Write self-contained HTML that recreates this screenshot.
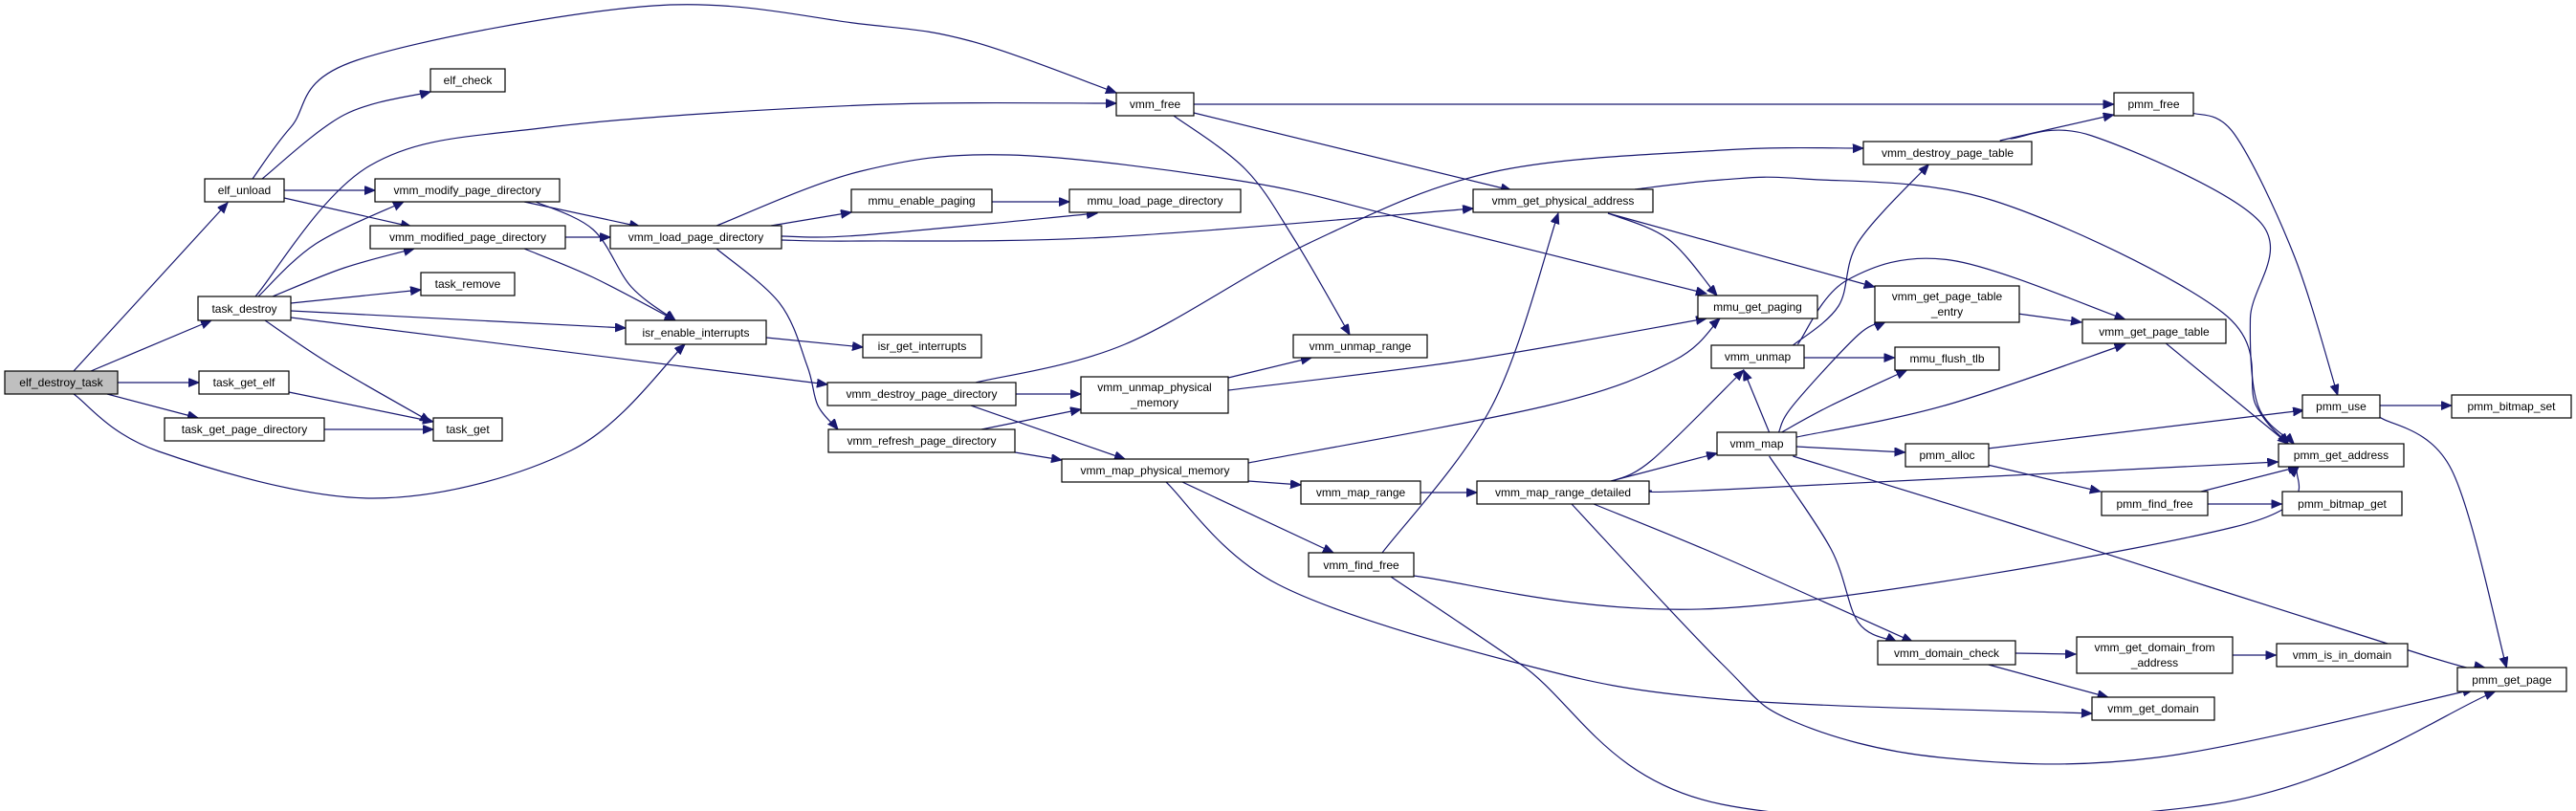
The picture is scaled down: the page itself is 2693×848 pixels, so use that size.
<!DOCTYPE html>
<html><head><meta charset="utf-8"><style>
html,body{margin:0;padding:0;background:#fff;}
svg{display:block;}
text{font-family:"Liberation Sans",Arial,sans-serif;font-size:12px;fill:#000;}
.e{fill:none;stroke:#191970;stroke-width:1.2;marker-end:url(#ah);}
rect{fill:#fff;stroke:#000;stroke-width:1.2;}
</style></head><body>
<svg id="g" width="2693" height="848" viewBox="0 0 2693 848" xmlns="http://www.w3.org/2000/svg">
<defs><marker id="ah" markerUnits="userSpaceOnUse" markerWidth="12" markerHeight="10" refX="11" refY="4.5" orient="auto"><path d="M0,0 L11,4.5 L0,9 z" fill="#191970" stroke="#191970"/></marker></defs>
<g id="edges">
<path class="e" d="M77,388 L238,212"/>
<path class="e" d="M95,388 L221,335"/>
<path class="e" d="M123,400 L208,400"/>
<path class="e" d="M112,412 L207,437"/>
<path class="e" d="M77,412 L166,472 L390,521 L597,471 L716,360"/>
<path class="e" d="M264,187 L304,133 L373,63 L683,6 L900,25 L1015,43 L1167,97"/>
<path class="e" d="M274,187 L360,120 L450,96"/>
<path class="e" d="M297,199 L392,199"/>
<path class="e" d="M297,207 L430,237"/>
<path class="e" d="M267,310 L387,173 L574,133 L900,110 L1167,108"/>
<path class="e" d="M270,310 L330,255 L422,211"/>
<path class="e" d="M285,310 L360,280 L433,260"/>
<path class="e" d="M304,317 L440,303"/>
<path class="e" d="M304,325 L654,343"/>
<path class="e" d="M304,332 L865,402"/>
<path class="e" d="M277,335 L344,380 L450,441"/>
<path class="e" d="M302,410 L453,441"/>
<path class="e" d="M339,449 L453,449"/>
<path class="e" d="M548,211 L669,237"/>
<path class="e" d="M560,211 L620,240 L660,300 L706,335"/>
<path class="e" d="M591,248 L638,248"/>
<path class="e" d="M548,260 L620,290 L706,335"/>
<path class="e" d="M749,236 L900,179 L1055,162 L1302,190 L1474,230 L1784,307"/>
<path class="e" d="M806,236 L890,222"/>
<path class="e" d="M817,247 L900,246 L1147,223"/>
<path class="e" d="M817,251 L900,252 L1158,248 L1540,218"/>
<path class="e" d="M749,260 L815,317 L844,383 L855,424 L876,449"/>
<path class="e" d="M1037,211 L1118,211"/>
<path class="e" d="M801,353 L902,363"/>
<path class="e" d="M1248,109 L2213,109"/>
<path class="e" d="M1248,118 L1580,199"/>
<path class="e" d="M1227,121 L1302,177 L1353,250 L1411,350"/>
<path class="e" d="M1020,400 L1176,360 L1371,253 L1560,180 L1800,157 L1949,155"/>
<path class="e" d="M1062,412 L1130,412"/>
<path class="e" d="M1015,424 L1176,480"/>
<path class="e" d="M1026,449 L1130,428"/>
<path class="e" d="M1061,473 L1110,481"/>
<path class="e" d="M1284,395 L1371,374"/>
<path class="e" d="M1284,408 L1531,377 L1784,333"/>
<path class="e" d="M1305,484 L1618,424 L1750,377 L1798,333"/>
<path class="e" d="M1305,503 L1360,507"/>
<path class="e" d="M1236,504 L1394,578"/>
<path class="e" d="M1219,504 L1336,611 L1589,694 L1800,731 L2190,746"/>
<path class="e" d="M1485,515 L1544,515"/>
<path class="e" d="M1445,578 L1560,424 L1629,223"/>
<path class="e" d="M1477,602 L1800,636 L2340,551 L2408,488"/>
<path class="e" d="M1454,603 L1589,694 L1800,841 L2317,841 L2615,723"/>
<path class="e" d="M1684,503 L1795,474"/>
<path class="e" d="M1686,503 L1727,481 L1823,387"/>
<path class="e" d="M1724,513 L1800,512 L2386,483"/>
<path class="e" d="M1666,527 L1800,582 L2001,671"/>
<path class="e" d="M1643,527 L1800,694 L1875,754 L2030,792 L2259,792 L2592,721"/>
<path class="e" d="M1681,223 L1744,250 L1795,309"/>
<path class="e" d="M1681,223 L1961,300"/>
<path class="e" d="M1709,198 L1800,188 L1886,187 L2087,210 L2328,327 L2363,424 L2397,464"/>
<path class="e" d="M2093,147 L2213,120"/>
<path class="e" d="M2104,145 L2190,142 L2368,233 L2357,333 L2365,424 L2403,464"/>
<path class="e" d="M1875,361 L1923,320 L1944,253 L2018,172"/>
<path class="e" d="M1880,360 L1932,293 L2041,272 L2225,334"/>
<path class="e" d="M1887,374 L1982,374"/>
<path class="e" d="M1850,452 L1823,387"/>
<path class="e" d="M1860,452 L1875,424 L1944,350 L1972,337"/>
<path class="e" d="M1863,452 L1915,424 L1995,387"/>
<path class="e" d="M1879,457 L2035,424 L2225,360"/>
<path class="e" d="M1879,467 L1993,473"/>
<path class="e" d="M1875,477 L2104,547 L2546,687 L2604,698"/>
<path class="e" d="M1850,477 L1915,574 L1944,651 L1984,671"/>
<path class="e" d="M2112,328 L2179,337"/>
<path class="e" d="M2268,359 L2397,464"/>
<path class="e" d="M2296,118 L2340,140 L2403,267 L2449,413"/>
<path class="e" d="M2493,424 L2569,424"/>
<path class="e" d="M2493,436 L2569,491 L2627,698"/>
<path class="e" d="M2080,469 L2413,429"/>
<path class="e" d="M2080,486 L2199,514"/>
<path class="e" d="M2305,514 L2408,488"/>
<path class="e" d="M2310,527 L2390,527"/>
<path class="e" d="M2109,683 L2173,684"/>
<path class="e" d="M2081,695 L2207,729"/>
<path class="e" d="M2336,685 L2384,685"/>
</g>
<g id="nodes">
<rect x="5" y="388" width="118" height="24" style="fill:#bfbfbf"/><text x="64" y="404" text-anchor="middle">elf_destroy_task</text>
<rect x="214" y="187" width="83" height="24"/><text x="255.5" y="203" text-anchor="middle">elf_unload</text>
<rect x="450" y="72" width="78" height="24"/><text x="489" y="88" text-anchor="middle">elf_check</text>
<rect x="392" y="187" width="193" height="24"/><text x="488.5" y="203" text-anchor="middle">vmm_modify_page_directory</text>
<rect x="387" y="236" width="204" height="24"/><text x="489" y="252" text-anchor="middle">vmm_modified_page_directory</text>
<rect x="638" y="236" width="179" height="24"/><text x="727.5" y="252" text-anchor="middle">vmm_load_page_directory</text>
<rect x="440" y="285" width="98" height="24"/><text x="489" y="301" text-anchor="middle">task_remove</text>
<rect x="207" y="310" width="97" height="25"/><text x="255.5" y="327" text-anchor="middle">task_destroy</text>
<rect x="654" y="335" width="147" height="25"/><text x="727.5" y="352" text-anchor="middle">isr_enable_interrupts</text>
<rect x="208" y="388" width="94" height="24"/><text x="255" y="404" text-anchor="middle">task_get_elf</text>
<rect x="172" y="437" width="167" height="24"/><text x="255.5" y="453" text-anchor="middle">task_get_page_directory</text>
<rect x="453" y="437" width="72" height="24"/><text x="489" y="453" text-anchor="middle">task_get</text>
<rect x="1167" y="97" width="81" height="24"/><text x="1207.5" y="113" text-anchor="middle">vmm_free</text>
<rect x="890" y="198" width="147" height="24"/><text x="963.5" y="214" text-anchor="middle">mmu_enable_paging</text>
<rect x="1118" y="198" width="179" height="24"/><text x="1207.5" y="214" text-anchor="middle">mmu_load_page_directory</text>
<rect x="1540" y="198" width="188" height="24"/><text x="1634" y="214" text-anchor="middle">vmm_get_physical_address</text>
<rect x="1775" y="309" width="125" height="24"/><text x="1837.5" y="325" text-anchor="middle">mmu_get_paging</text>
<rect x="902" y="350" width="124" height="24"/><text x="964" y="366" text-anchor="middle">isr_get_interrupts</text>
<rect x="1352" y="350" width="140" height="24"/><text x="1422" y="366" text-anchor="middle">vmm_unmap_range</text>
<rect x="865" y="400" width="197" height="24"/><text x="963.5" y="416" text-anchor="middle">vmm_destroy_page_directory</text>
<rect x="1130" y="394" width="154" height="38"/><text x="1207" y="409" text-anchor="middle">vmm_unmap_physical</text><text x="1207" y="425" text-anchor="middle">_memory</text>
<rect x="866" y="449" width="195" height="24"/><text x="963.5" y="465" text-anchor="middle">vmm_refresh_page_directory</text>
<rect x="1110" y="480" width="195" height="24"/><text x="1207.5" y="496" text-anchor="middle">vmm_map_physical_memory</text>
<rect x="1360" y="503" width="125" height="24"/><text x="1422.5" y="519" text-anchor="middle">vmm_map_range</text>
<rect x="1544" y="503" width="180" height="24"/><text x="1634" y="519" text-anchor="middle">vmm_map_range_detailed</text>
<rect x="1368" y="578" width="110" height="25"/><text x="1423" y="595" text-anchor="middle">vmm_find_free</text>
<rect x="2210" y="97" width="83" height="24"/><text x="2251.5" y="113" text-anchor="middle">pmm_free</text>
<rect x="1948" y="148" width="176" height="24"/><text x="2036" y="164" text-anchor="middle">vmm_destroy_page_table</text>
<rect x="1960" y="299" width="151" height="38"/><text x="2035.5" y="314" text-anchor="middle">vmm_get_page_table</text><text x="2035.5" y="330" text-anchor="middle">_entry</text>
<rect x="2177" y="334" width="150" height="25"/><text x="2252" y="351" text-anchor="middle">vmm_get_page_table</text>
<rect x="1789" y="361" width="97" height="24"/><text x="1837.5" y="377" text-anchor="middle">vmm_unmap</text>
<rect x="1981" y="363" width="109" height="24"/><text x="2035.5" y="379" text-anchor="middle">mmu_flush_tlb</text>
<rect x="2407" y="413" width="81" height="24"/><text x="2447.5" y="429" text-anchor="middle">pmm_use</text>
<rect x="2563" y="413" width="125" height="24"/><text x="2625.5" y="429" text-anchor="middle">pmm_bitmap_set</text>
<rect x="1795" y="452" width="83" height="24"/><text x="1836.5" y="468" text-anchor="middle">vmm_map</text>
<rect x="1992" y="464" width="87" height="24"/><text x="2035.5" y="480" text-anchor="middle">pmm_alloc</text>
<rect x="2382" y="464" width="131" height="24"/><text x="2447.5" y="480" text-anchor="middle">pmm_get_address</text>
<rect x="2197" y="514" width="111" height="25"/><text x="2252.5" y="531" text-anchor="middle">pmm_find_free</text>
<rect x="2386" y="514" width="125" height="25"/><text x="2448.5" y="531" text-anchor="middle">pmm_bitmap_get</text>
<rect x="1963" y="670" width="144" height="25"/><text x="2035" y="687" text-anchor="middle">vmm_domain_check</text>
<rect x="2171" y="666" width="163" height="38"/><text x="2252.5" y="681" text-anchor="middle">vmm_get_domain_from</text><text x="2252.5" y="697" text-anchor="middle">_address</text>
<rect x="2380" y="673" width="137" height="24"/><text x="2448.5" y="689" text-anchor="middle">vmm_is_in_domain</text>
<rect x="2187" y="729" width="128" height="24"/><text x="2251" y="745" text-anchor="middle">vmm_get_domain</text>
<rect x="2569" y="698" width="114" height="25"/><text x="2626" y="715" text-anchor="middle">pmm_get_page</text>
</g>
</svg>
<script>
(function(){
var ps=document.querySelectorAll('#edges path');
for(var k=0;k<ps.length;k++){
 var n=ps[k].getAttribute('d').match(/-?\d+(\.\d+)?/g).map(Number);
 var p=[];for(var i=0;i<n.length;i+=2){var x=n[i];if(x>1800)x=1800+(x-1800)*0.992;p.push([x,n[i+1]]);}
 var d='M'+p[0][0].toFixed(1)+','+p[0][1];
 if(p.length<3){d+=' L'+p[1][0].toFixed(1)+','+p[1][1];ps[k].setAttribute('d',d);continue;}
 for(var i=0;i<p.length-1;i++){
  var p0=p[i>0?i-1:0],p1=p[i],p2=p[i+1],p3=p[i+2<p.length?i+2:p.length-1];
  var c1=[p1[0]+(p2[0]-p0[0])/6,p1[1]+(p2[1]-p0[1])/6];
  var c2=[p2[0]-(p3[0]-p1[0])/6,p2[1]-(p3[1]-p1[1])/6];
  d+=' C'+c1[0].toFixed(1)+','+c1[1].toFixed(1)+' '+c2[0].toFixed(1)+','+c2[1].toFixed(1)+' '+p2[0].toFixed(1)+','+p2[1];
 }
 ps[k].setAttribute('d',d);
}
})();
</script>
</body></html>
